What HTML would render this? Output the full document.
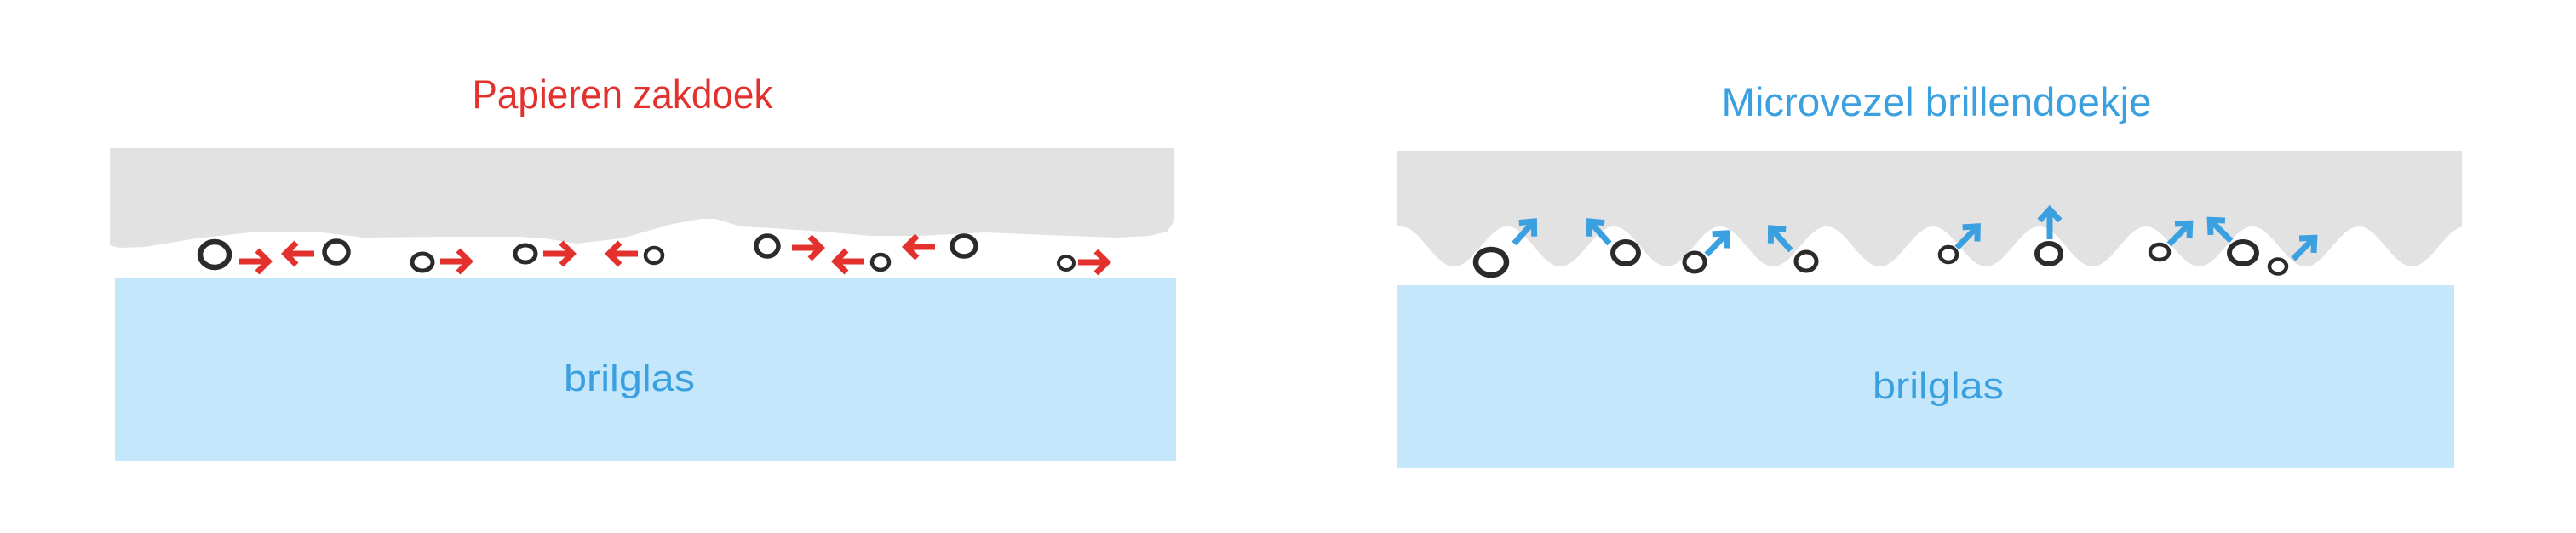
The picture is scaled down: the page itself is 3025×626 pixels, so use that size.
<!DOCTYPE html>
<html><head><meta charset="utf-8"><style>html,body{margin:0;padding:0;background:#fff}svg{display:block}</style></head>
<body>
<svg width="3025" height="626" viewBox="0 0 3025 626" xmlns="http://www.w3.org/2000/svg">
<defs>
<g id="ra" fill="none" stroke="#e3312e" stroke-width="7" stroke-linejoin="miter"><line x1="0" y1="0" x2="31" y2="0"/><polyline points="21,-13 34,0 21,13"/></g>
<g id="ba" fill="none" stroke="#3ba0e0" stroke-width="7" stroke-linejoin="miter"><line x1="0" y1="0" x2="34" y2="0"/><polyline points="22,-12 35,0 22,12"/></g>
</defs>
<rect width="3025" height="626" fill="#fff"/>
<!-- left panel -->
<text x="731" y="127" text-anchor="middle" font-family="Liberation Sans, sans-serif" font-size="47" fill="#e3312e" textLength="353" lengthAdjust="spacingAndGlyphs">Papieren zakdoek</text>
<path d="M129,174 H1379 V260 L1370,272 L1350,277 L1312,279 L1230,276 L1157,273 L1080,277 L1022,277 L965,272 L907,268 L870,266 L840,257 L824,257 L790,263 L730,280 L677,286 L640,280 L610,278 L520,278 L427,279 L370,272 L304,272 L230,280 L170,290 L140,291 L129,288 Z" fill="#e2e2e2"/>
<rect x="135" y="326" width="1246" height="216" fill="#c4e7fb"/>
<text x="739" y="459" text-anchor="middle" font-family="Liberation Sans, sans-serif" font-size="44" fill="#3ba0e0" textLength="154" lengthAdjust="spacingAndGlyphs">brilglas</text>
<g fill="none" stroke="#2b2b2b">
<ellipse cx="252" cy="299" rx="17" ry="15" stroke-width="6.5"/>
<ellipse cx="395" cy="296" rx="14" ry="13" stroke-width="5.5"/>
<ellipse cx="496" cy="308" rx="12" ry="10" stroke-width="5"/>
<ellipse cx="617" cy="298" rx="12" ry="10" stroke-width="5"/>
<ellipse cx="768" cy="300" rx="10" ry="9" stroke-width="4.5"/>
<ellipse cx="901" cy="289" rx="13" ry="12" stroke-width="5.5"/>
<ellipse cx="1034" cy="308" rx="10" ry="9" stroke-width="4.5"/>
<ellipse cx="1132" cy="289" rx="14" ry="12" stroke-width="5.5"/>
<ellipse cx="1252" cy="309" rx="9" ry="8" stroke-width="4"/>
</g>
<use href="#ra" transform="translate(281,307)"/>
<use href="#ra" transform="translate(369,298) rotate(180)"/>
<use href="#ra" transform="translate(517,307)"/>
<use href="#ra" transform="translate(638,298)"/>
<use href="#ra" transform="translate(749,298) rotate(180)"/>
<use href="#ra" transform="translate(930,291)"/>
<use href="#ra" transform="translate(1015,307) rotate(180)"/>
<use href="#ra" transform="translate(1098,290) rotate(180)"/>
<use href="#ra" transform="translate(1266,308)"/>
<!-- right panel -->
<text x="2274" y="136" text-anchor="middle" font-family="Liberation Sans, sans-serif" font-size="47" fill="#3ba0e0" textLength="505" lengthAdjust="spacingAndGlyphs">Microvezel brillendoekje</text>
<path d="M1641,177 H2891 V266 L2895,266 c-22.8,0 -39.7,47 -62.5,47 c-22.8,0 -39.7,-47 -62.5,-47 c-22.8,0 -39.7,47 -62.5,47 c-22.8,0 -39.7,-47 -62.5,-47 c-22.8,0 -39.7,47 -62.5,47 c-22.8,0 -39.7,-47 -62.5,-47 c-22.8,0 -39.7,47 -62.5,47 c-22.8,0 -39.7,-47 -62.5,-47 c-22.8,0 -39.7,47 -62.5,47 c-22.8,0 -39.7,-47 -62.5,-47 c-22.8,0 -39.7,47 -62.5,47 c-22.8,0 -39.7,-47 -62.5,-47 c-22.8,0 -39.7,47 -62.5,47 c-22.8,0 -39.7,-47 -62.5,-47 c-22.8,0 -39.7,47 -62.5,47 c-22.8,0 -39.7,-47 -62.5,-47 c-22.8,0 -39.7,47 -62.5,47 c-22.8,0 -39.7,-47 -62.5,-47 c-22.8,0 -39.7,47 -62.5,47 c-22.8,0 -39.7,-47 -62.5,-47 L1641,266 Z" fill="#e2e2e2"/>
<rect x="2891" y="177" width="10" height="100" fill="#fff"/>
<rect x="1641" y="335" width="1241" height="215" fill="#c4e7fb"/>
<text x="2276" y="468" text-anchor="middle" font-family="Liberation Sans, sans-serif" font-size="44" fill="#3ba0e0" textLength="154" lengthAdjust="spacingAndGlyphs">brilglas</text>
<g fill="none" stroke="#2b2b2b">
<ellipse cx="1751" cy="308" rx="18" ry="15" stroke-width="6.5"/>
<ellipse cx="1909" cy="297" rx="15" ry="13" stroke-width="6"/>
<ellipse cx="1990" cy="308" rx="12" ry="11" stroke-width="5"/>
<ellipse cx="2121" cy="307" rx="12" ry="11" stroke-width="5"/>
<ellipse cx="2288" cy="299" rx="10" ry="9" stroke-width="4.5"/>
<ellipse cx="2406" cy="298" rx="14" ry="12" stroke-width="6"/>
<ellipse cx="2536" cy="296" rx="11" ry="9" stroke-width="4.5"/>
<ellipse cx="2634" cy="297" rx="16" ry="13" stroke-width="6"/>
<ellipse cx="2675" cy="313" rx="10" ry="8.5" stroke-width="4.5"/>
</g>
<use href="#ba" transform="translate(1778,286) rotate(-48)"/>
<use href="#ba" transform="translate(1890,286) rotate(-132)"/>
<use href="#ba" transform="translate(2004,299) rotate(-46)"/>
<use href="#ba" transform="translate(2103,294) rotate(-132)"/>
<use href="#ba" transform="translate(2298,291) rotate(-46)"/>
<use href="#ba" transform="translate(2407,281) rotate(-90)"/>
<use href="#ba" transform="translate(2547,287) rotate(-45)"/>
<use href="#ba" transform="translate(2620,283) rotate(-135)"/>
<use href="#ba" transform="translate(2693,304) rotate(-45)"/>
</svg>
</body></html>
